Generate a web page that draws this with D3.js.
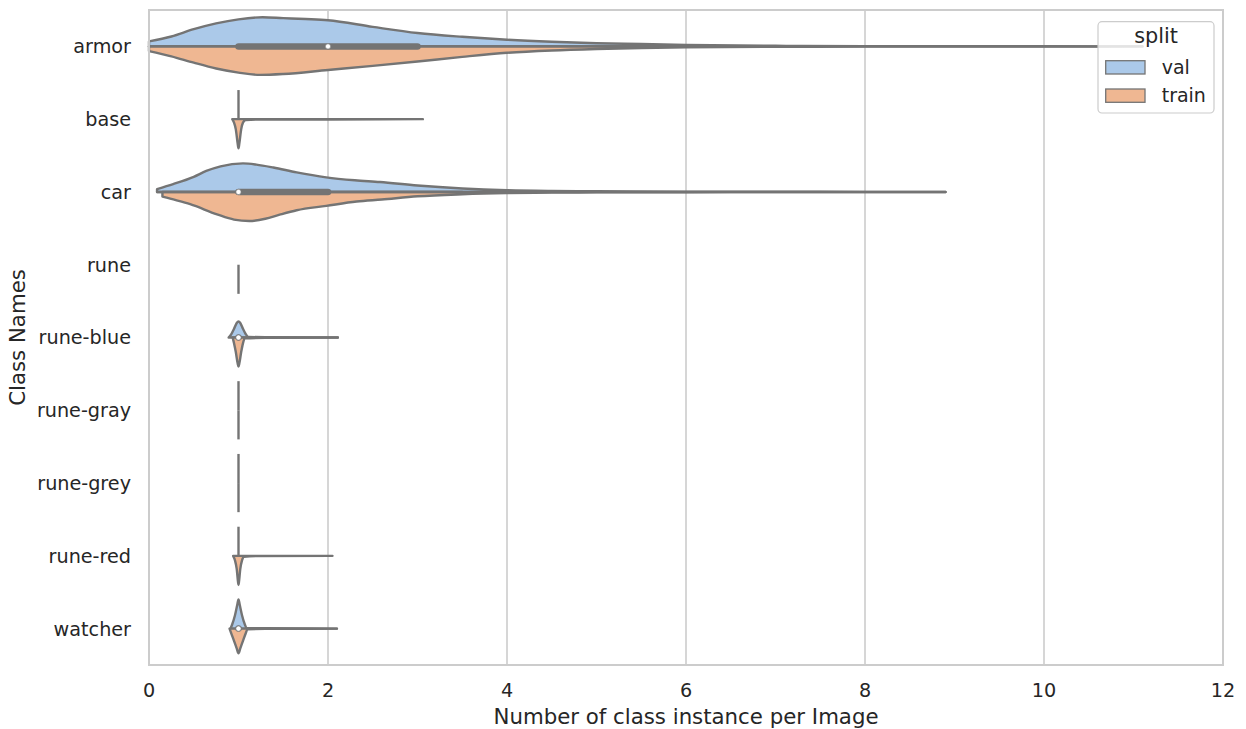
<!DOCTYPE html>
<html><head><meta charset="utf-8">
<script src="https://cdn.jsdelivr.net/npm/d3@7"></script>
<style>
body{margin:0;background:#fff}
text{font-family:"DejaVu Sans",sans-serif;fill:#262626}
</style>
</head><body>
<svg id="chart" width="1246" height="729"></svg>
<script>
// ---------------- DATA ----------------
const categories = ["armor","base","car","rune","rune-blue","rune-gray","rune-grey","rune-red","watcher"];
const splits = ["val","train"];
const splitColors = ["#abc9e9","#efb792"];
const xTicks = [0,2,4,6,8,10,12];

// violin half densities: [value, relative density (1 = full half-width)]
const armorVal = [[0,0.17],[0.25,0.34],[0.5,0.59],[0.75,0.79],[1,0.93],[1.27,1],[1.5,0.97],[1.75,0.94],[2,0.9],[2.5,0.67],[3,0.46],[3.5,0.33],[4,0.23],[4.5,0.16],[5,0.11],[5.5,0.08],[6,0.05],[7,0.02],[8,0.01],[9,0.006],[10,0.004],[11.1,0]];
const armorTrain = [[0,0.16],[0.25,0.34],[0.5,0.56],[0.75,0.76],[1,0.9],[1.24,0.98],[1.5,0.95],[2,0.81],[2.5,0.67],[3,0.52],[3.5,0.36],[4,0.22],[4.5,0.14],[5,0.09],[5.5,0.055],[6,0.035],[7,0.015],[8,0.008],[9,0.005],[10,0.003],[11.1,0]];
const carVal = [[0.09,0.1],[0.27,0.27],[0.5,0.52],[0.64,0.72],[0.8,0.88],[1.05,0.98],[1.2,0.94],[1.39,0.84],[1.65,0.67],[1.98,0.5],[2.3,0.4],[2.58,0.34],[3,0.22],[3.5,0.12],[4,0.06],[4.5,0.035],[5,0.025],[6,0.012],[7,0.007],[8,0.003],[8.9,0]];
const carTrain = [[0.15,0.16],[0.3,0.28],[0.46,0.42],[0.76,0.77],[0.95,0.95],[1.12,1.0],[1.3,0.92],[1.46,0.78],[1.65,0.63],[1.98,0.48],[2.32,0.33],[2.6,0.26],[3,0.15],[3.5,0.08],[4,0.04],[4.5,0.025],[5,0.015],[6,0.008],[7,0.004],[8,0.002],[8.9,0]];
const baseTrain = [[0.93,0],[0.95,0.12],[0.97,0.35],[0.99,0.82],[1.0,1.0],[1.01,0.82],[1.03,0.35],[1.05,0.12],[1.08,0.03],[1.2,0.012],[2,0.01],[3.06,0]];
const runeBlueVal = [[0.89,0],[0.92,0.12],[0.95,0.3],[0.98,0.5],[1.0,0.55],[1.02,0.5],[1.05,0.3],[1.08,0.12],[1.11,0.02],[1.3,0.01],[2.11,0]];
const runeBlueTrain = [[0.935,0],[0.95,0.2],[0.97,0.5],[0.99,0.88],[1.0,1.0],[1.01,0.88],[1.03,0.5],[1.05,0.2],[1.07,0.03],[1.3,0.01],[2.11,0]];
const runeRedTrain = [[0.94,0],[0.96,0.15],[0.98,0.45],[0.995,0.9],[1.0,1.0],[1.005,0.9],[1.02,0.45],[1.04,0.15],[1.06,0.03],[1.2,0.01],[2.05,0]];
const watcherVal = [[0.91,0],[0.93,0.15],[0.96,0.45],[0.985,0.8],[1.0,1.0],[1.015,0.8],[1.04,0.45],[1.07,0.15],[1.09,0.02],[1.3,0.01],[2.1,0]];
const watcherTrain = [[0.9,0],[0.92,0.17],[0.95,0.42],[0.98,0.68],[1.0,0.85],[1.02,0.68],[1.05,0.42],[1.08,0.17],[1.1,0.02],[1.3,0.01],[2.1,0]];

// per category (same order as categories)
const valDensities   = [armorVal, null, carVal, null, runeBlueVal, null, null, null, watcherVal];
const trainDensities = [armorTrain, baseTrain, carTrain, null, runeBlueTrain, null, null, runeRedTrain, watcherTrain];
// halves that hold a single observation value
const valSingle   = [null, 1, null, null, null, 1, 1, 1, null];
const trainSingle = [null, null, null, 1, null, 1, 1, null, null];
// inner box statistics
const boxQ1     = [1, null, 1, null, 1, null, null, null, 1];
const boxMedian = [2, null, 1, null, 1, null, null, null, 1];
const boxQ3     = [3, null, 2, null, 1, null, null, null, 1];
const whiskLo   = [0, null, 0.09, null, 1, null, null, null, 1];
const whiskHi   = [6, null, 3.5, null, 1, null, null, null, 1];

// ---------------- CHART ----------------
const svg = d3.select("#chart");
const pLeft = 149, pRight = 1223, pTop = 10, pBottom = 665;
const gray = "#747474";

const x = d3.scaleLinear().domain([0,12]).range([pLeft,pRight]);
const y = d3.scaleBand().domain(categories).range([pTop,pBottom]).padding(0);
const w = d3.scaleLinear().domain([0,1]).range([0, y.bandwidth()*0.4]);
const cy = c => y(c) + y.bandwidth()/2;

// grid
svg.append("g").selectAll("line").data(xTicks).join("line")
  .attr("x1", d=>x(d)).attr("x2", d=>x(d)).attr("y1", pTop).attr("y2", pBottom)
  .attr("stroke", "#cccccc").attr("stroke-width", 1.6);

// x tick labels
svg.append("g").selectAll("text").data(xTicks).join("text")
  .attr("x", d=>x(d)).attr("y", 697).attr("text-anchor","middle")
  .style("font-size","19.2px").text(d=>d);

// y tick labels
svg.append("g").selectAll("text").data(categories).join("text")
  .attr("x", 131).attr("y", d=>cy(d)).attr("dy","0.36em").attr("text-anchor","end")
  .style("font-size","19.2px").text(d=>d);

// axis titles
svg.append("text").attr("x",(pLeft+pRight)/2).attr("y",724).attr("text-anchor","middle")
  .style("font-size","21.3px").text("Number of class instance per Image");
svg.append("text").attr("transform",`translate(24.5,${(pTop+pBottom)/2}) rotate(-90)`)
  .attr("text-anchor","middle").style("font-size","21.3px").text("Class Names");

const vg = svg.append("g");
const halfArea = (c, sign) => d3.area()
  .x(d=>x(d[0])).y0(cy(c)).y1(d=>cy(c) + sign*w(d[1]))
  .curve(d3.curveMonotoneX);

categories.forEach((c,i) => {
  [[valDensities[i], -1, splitColors[0]], [trainDensities[i], 1, splitColors[1]]].forEach(([dens, sign, col]) => {
    if (!dens) return;
    vg.append("path").datum(dens).attr("d", halfArea(c, sign))
      .attr("fill", col).attr("stroke", gray).attr("stroke-width", 2.4)
      .attr("stroke-linejoin","round");
  });
  [[valSingle[i], -1], [trainSingle[i], 1]].forEach(([v, sign]) => {
    if (v == null) return;
    vg.append("line").attr("x1", x(v)).attr("x2", x(v))
      .attr("y1", cy(c)).attr("y2", cy(c) + sign*w(1))
      .attr("stroke", gray).attr("stroke-width", 2.4);
  });
});

// inner box
categories.forEach((c,i) => {
  if (boxMedian[i] == null) return;
  vg.append("line").attr("x1", x(whiskLo[i])).attr("x2", x(whiskHi[i]))
    .attr("y1", cy(c)).attr("y2", cy(c)).attr("stroke", gray)
    .attr("stroke-width", 2.4).attr("stroke-linecap","round");
  vg.append("line").attr("x1", x(boxQ1[i])).attr("x2", x(boxQ3[i]))
    .attr("y1", cy(c)).attr("y2", cy(c)).attr("stroke", gray)
    .attr("stroke-width", 6.5).attr("stroke-linecap","round");
  vg.append("circle").attr("cx", x(boxMedian[i])).attr("cy", cy(c)).attr("r", 2.6)
    .attr("fill","#fff").attr("stroke", gray).attr("stroke-width", 0.6);
});

// spines
svg.append("rect").attr("x", pLeft).attr("y", pTop).attr("width", pRight-pLeft).attr("height", pBottom-pTop)
  .attr("fill","none").attr("stroke","#cccccc").attr("stroke-width", 2);

// legend
const lg = svg.append("g");
lg.append("rect").attr("x",1098).attr("y",21.7).attr("width",116).attr("height",91.3).attr("rx",4)
  .attr("fill","#fff").attr("fill-opacity",0.8).attr("stroke","#cccccc").attr("stroke-width",1.2);
lg.append("text").attr("x",1156).attr("y",43).attr("text-anchor","middle")
  .style("font-size","20.8px").text("split");
splits.forEach((s,j) => {
  lg.append("rect").attr("x",1105.7).attr("y",60.7 + j*28.3).attr("width",39.3).attr("height",13.3)
    .attr("fill", splitColors[j]).attr("stroke", gray).attr("stroke-width",1.3);
  lg.append("text").attr("x",1161.7).attr("y",74 + j*28.3)
    .style("font-size","19px").text(s);
});
</script>
</body></html>
